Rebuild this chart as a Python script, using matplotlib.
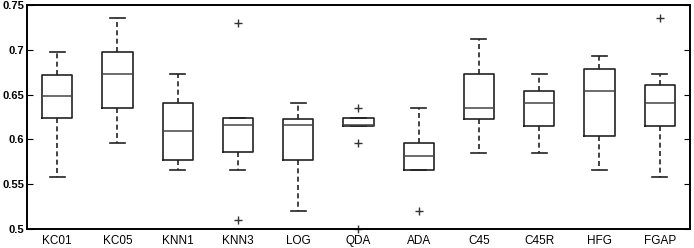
import matplotlib
matplotlib.use('Agg')
import matplotlib.pyplot as plt

plt.rcParams['font.family'] = ['Liberation Sans', 'DejaVu Sans']

# classifiers and their boxplot statistics
methods = ['KC01', 'KC05', 'KNN1', 'KNN3', 'LOG', 'QDA', 'ADA', 'C45', 'C45R', 'HFG', 'FGAP']
whislo = [0.558, 0.596, 0.566, 0.566, 0.520, 0.615, 0.566, 0.585, 0.585, 0.566, 0.558]
q1 = [0.6235, 0.635, 0.577, 0.5856, 0.577, 0.615, 0.566, 0.623, 0.615, 0.604, 0.615]
med = [0.648, 0.673, 0.609, 0.616, 0.616, 0.616, 0.581, 0.635, 0.641, 0.654, 0.641]
q3 = [0.672, 0.698, 0.641, 0.6235, 0.623, 0.6235, 0.596, 0.673, 0.654, 0.679, 0.661]
whishi = [0.698, 0.736, 0.673, 0.6235, 0.641, 0.6235, 0.635, 0.712, 0.673, 0.693, 0.673]
fliers = [[], [], [], [0.730, 0.510], [], [0.635, 0.596, 0.500], [0.520], [], [], [], [0.736]]

stats = []
for i, m in enumerate(methods):
    stats.append({'label': m, 'whislo': whislo[i], 'q1': q1[i], 'med': med[i],
                  'q3': q3[i], 'whishi': whishi[i], 'fliers': fliers[i]})

fig = plt.figure(figsize=(6.94, 2.48), dpi=100)
ax = fig.add_axes([0.039, 0.0766, 0.955, 0.9034])

art = ax.bxp(stats, widths=0.5, showfliers=True,
             boxprops=dict(color='#222222', linewidth=1.2),
             medianprops=dict(color='#444444', linewidth=1.1),
             whiskerprops=dict(color='#222222', linewidth=1.2, linestyle=(0, (3, 2))),
             capprops=dict(color='#222222', linewidth=1.2),
             flierprops=dict(marker='+', markeredgecolor='#333333', markersize=6, linestyle='none'))
for f in art['fliers']:
    f.set_clip_on(False)

ax.set_xlim(0.5, 11.5)
ax.set_ylim(0.5, 0.75)
ax.set_yticks([0.5, 0.55, 0.6, 0.65, 0.7, 0.75])
ax.set_yticklabels(['0.5', '0.55', '0.6', '0.65', '0.7', '0.75'], fontweight='bold')
ax.tick_params(axis='y', direction='in', right=True, length=4, labelsize=8, pad=2)
ax.tick_params(axis='x', length=0, labelsize=8.5, pad=4)
for s in ax.spines.values():
    s.set_linewidth(1.4)

fig.savefig('out.png', dpi=100)
